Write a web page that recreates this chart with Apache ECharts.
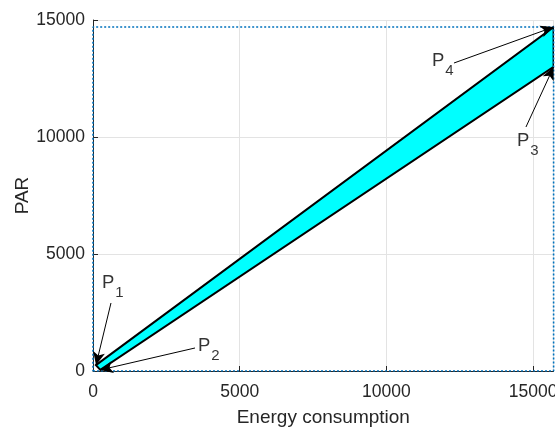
<!DOCTYPE html>
<html><head><meta charset="utf-8">
<script src="https://cdn.jsdelivr.net/npm/echarts@6/dist/echarts.min.js"></script>
<style>html,body{margin:0;padding:0;background:#fff}#c{width:555px;height:431px}</style>
</head><body><div id="c"></div>
<script>
// axis ticks
const xTicks = [0, 5000, 10000, 15000];
const yTicks = [0, 5000, 10000, 15000];
const xMax = 15700;
const yMax = 15000;
// band polygon vertices P1, P4, P3, P2
const bandX = [100, 15700, 15700, 250];
const bandY = [250, 14700, 13000, 50];
// dotted bounding box
const boxX = [0, 15700, 15700, 0, 0];
const boxY = [0, 0, 14700, 14700, 0];
// annotation labels
const labelSub = ['1', '2', '3', '4'];
const labelX = [307, 3579, 14451, 11554];
const labelY = [4162, 1470, 10231, 13650];
// annotation arrows
const arrowFromX = [613, 3477, 14758, 12304];
const arrowFromY = [2906, 983, 10427, 13162];
const arrowToX = [102, 239, 15700, 15700];
const arrowToY = [256, 43, 12991, 14700];

const FONT = 'Liberation Sans, Arial, Helvetica, sans-serif';
const AX = '#262626';

const chart = echarts.init(document.getElementById('c'), null, {renderer: 'canvas'});
chart.setOption({
  animation: false,
  grid: {left: 93, top: 20, width: 460.6, height: 351, containLabel: false, outerBoundsMode: 'none'},
  xAxis: {
    type: 'value', min: 0, max: xMax, interval: 5000,
    name: 'Energy consumption', nameLocation: 'middle', nameGap: 37, nameMoveOverlap: false,
    nameTextStyle: {fontFamily: FONT, fontSize: 19, color: AX},
    axisLine: {show: true, lineStyle: {color: AX, width: 1}},
    axisTick: {show: true, inside: true, length: 5, lineStyle: {color: AX}},
    axisLabel: {fontFamily: FONT, fontSize: 17.5, color: AX, margin: 12, showMaxLabel: false,
      formatter: v => xTicks.indexOf(v) >= 0 ? String(v) : ''},
    splitLine: {show: true, lineStyle: {color: '#e3e3e3', width: 1}}
  },
  yAxis: {
    type: 'value', min: 0, max: yMax, interval: 5000,
    name: 'PAR', nameLocation: 'middle', nameGap: 61, nameMoveOverlap: false,
    nameTextStyle: {fontFamily: FONT, fontSize: 19, color: AX},
    axisLine: {show: true, lineStyle: {color: AX, width: 1}},
    axisTick: {show: true, inside: true, length: 5, lineStyle: {color: AX}},
    axisLabel: {fontFamily: FONT, fontSize: 17.5, color: AX, margin: 8,
      formatter: v => yTicks.indexOf(v) >= 0 ? String(v) : ''},
    splitLine: {show: true, lineStyle: {color: '#e3e3e3', width: 1}}
  },
  series: [
    {
      type: 'custom',
      clip: true,
      data: [[bandX[0], bandY[0]]],
      renderItem: function (params, api) {
        const pts = bandX.map((x, i) => api.coord([x, bandY[i]]));
        return {type: 'polygon', shape: {points: pts},
          style: {fill: '#00FFFF', stroke: '#000000', lineWidth: 2}};
      },
      z: 3
    },
    {
      type: 'line',
      data: boxX.map((x, i) => [x, boxY[i]]),
      symbol: 'none',
      lineStyle: {color: '#0072BD', width: 1.6, type: [2, 2]},
      z: 4,
      markLine: {
        silent: true,
        symbol: ['none', 'arrow'],
        symbolSize: [9, 13],
        label: {show: false},
        lineStyle: {color: '#000000', width: 1, type: 'solid'},
        data: arrowFromX.map((x, i) => [
          {coord: [x, arrowFromY[i]]},
          {coord: [arrowToX[i], arrowToY[i]]}
        ])
      }
    },
    {
      type: 'scatter',
      symbolSize: 0,
      data: labelX.map((x, i) => [x, labelY[i], labelSub[i]]),
      z: 6,
      label: {
        show: true,
        position: [0, 0],
        align: 'left',
        verticalAlign: 'top',
        formatter: p => '{p|P}{s|' + p.data[2] + '}',
        rich: {
          p: {fontFamily: FONT, fontSize: 18.5, lineHeight: 20, color: '#000', verticalAlign: 'top'},
          s: {fontFamily: FONT, fontSize: 15, lineHeight: 17, color: '#000', verticalAlign: 'top', padding: [12, 0, 0, 1]}
        }
      }
    }
  ]
});
</script>
</body></html>
